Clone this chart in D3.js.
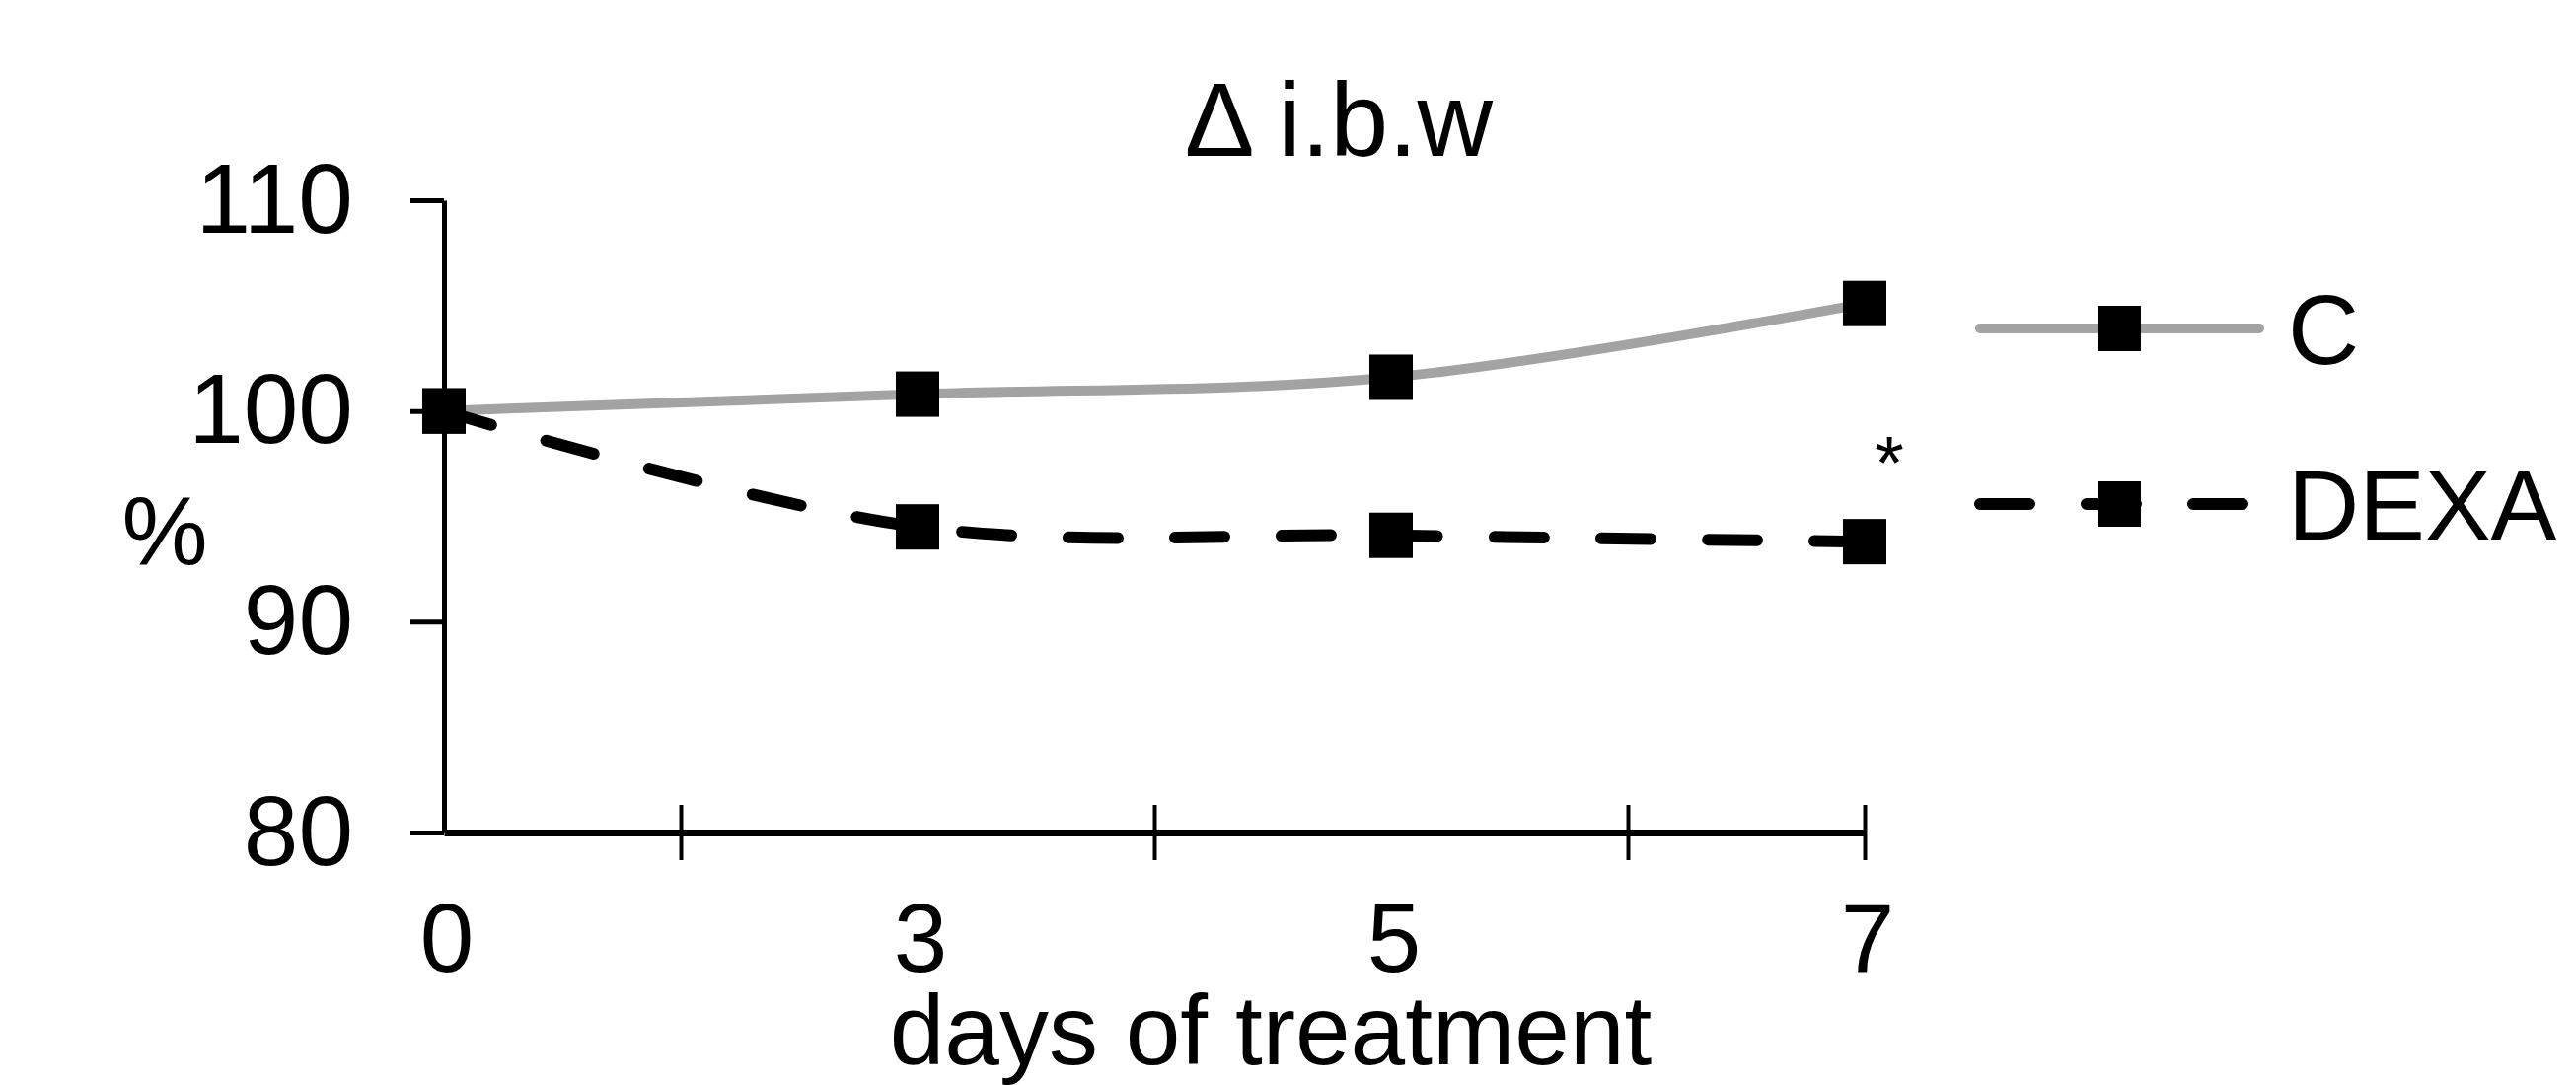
<!DOCTYPE html>
<html>
<head>
<meta charset="utf-8">
<script src="https://cdn.jsdelivr.net/npm/d3@7"></script>
<style>
  body { margin: 0; background: #fff; }
  text { font-family: "Liberation Sans", Arial, sans-serif; fill: #000; }
</style>
</head>
<body>
<svg id="myGraph" width="2611" height="1100"></svg>
<script>
// data
var days = ["0", "3", "5", "7"];          // x category labels
var seriesNames = ["C", "DEXA"];
var valuesC = [100, 100.8, 101.6, 105.1];
var valuesDexa = [100, 94.5, 94.1, 93.8];
var yTicks = [80, 90, 100, 110];
var starAt = 3;   // index of the day marked with *

var svg = d3.select("#myGraph");

// scales
var x = d3.scalePoint().domain(days).range([450, 1890]);
var xi = d3.scaleLinear().domain([0, days.length - 1]).range([450, 1890]); // for between-category ticks
var y = d3.scaleLinear().domain([80, 110]).range([844, 203]);

// y axis
var yAxis = svg.append("g")
  .attr("transform", "translate(450,0)")
  .call(d3.axisLeft(y).tickValues(yTicks).tickSize(34).tickSizeOuter(0).tickPadding(58));
yAxis.select(".domain").attr("stroke-width", 5);
yAxis.selectAll(".tick line").attr("stroke-width", 5);
yAxis.selectAll(".tick text").attr("font-size", 100).attr("font-family", "Liberation Sans, Arial, sans-serif");

// x axis (ticks sit between categories, labels at categories)
var xAxis = svg.append("g")
  .attr("transform", "translate(0,844)")
  .call(d3.axisBottom(xi).tickValues([0.5, 1.5, 2.5, 3]).tickSizeOuter(0).tickFormat(""));
xAxis.select(".domain").attr("stroke-width", 7);
xAxis.selectAll(".tick line").attr("y1", -28).attr("y2", 28).attr("stroke-width", 4);

svg.append("g").selectAll("text.xl")
  .data(days).enter()
  .append("text")
  .attr("class", "xl")
  .attr("x", function(d){ return x(d) + 3; })
  .attr("y", 985)
  .attr("text-anchor", "middle")
  .attr("font-size", 98)
  .text(function(d){ return d; });

// titles
svg.append("text")
  .attr("x", 1357).attr("y", 158)
  .attr("text-anchor", "middle")
  .attr("font-size", 106)
  .text("Δ i.b.w");

svg.append("text")
  .attr("x", 1288).attr("y", 1079)
  .attr("text-anchor", "middle")
  .attr("font-size", 100)
  .text("days of treatment");

svg.append("text")
  .attr("x", 167).attr("y", 572)
  .attr("text-anchor", "middle")
  .attr("font-size", 98)
  .text("%");

// lines
var line = d3.line()
  .x(function(d, i){ return x(days[i]); })
  .y(function(d){ return y(d); })
  .curve(d3.curveCatmullRom.alpha(0.5));

var styles = [
  { stroke: "#a3a3a3", width: 10, dash: null },
  { stroke: "#000", width: 12, dash: "50,58" }
];
var allSeries = [valuesC, valuesDexa];

allSeries.forEach(function(vals, s){
  svg.append("path")
    .attr("d", line(vals))
    .attr("fill", "none")
    .attr("stroke", styles[s].stroke)
    .attr("stroke-width", styles[s].width)
    .attr("stroke-linecap", "round")
    .attr("stroke-dasharray", styles[s].dash);

  svg.append("g").selectAll("rect")
    .data(vals).enter()
    .append("rect")
    .attr("x", function(d, i){ return x(days[i]) - 22; })
    .attr("y", function(d){ return y(d) - 23; })
    .attr("width", 44)
    .attr("height", 46)
    .attr("fill", "#000");
});

// significance mark
svg.append("text")
  .attr("x", x(days[starAt]) + 25)
  .attr("y", 495)
  .attr("text-anchor", "middle")
  .attr("font-size", 76)
  .text("*");

// legend
var legendY = [333, 511];
seriesNames.forEach(function(name, s){
  var g = svg.append("g").attr("transform", "translate(2007," + legendY[s] + ")");
  g.append("line")
    .attr("x1", 0).attr("x2", 283)
    .attr("stroke", styles[s].stroke)
    .attr("stroke-width", styles[s].width)
    .attr("stroke-linecap", "round")
    .attr("stroke-dasharray", styles[s].dash);
  g.append("rect")
    .attr("x", 141 - 22).attr("y", -23)
    .attr("width", 44).attr("height", 46)
    .attr("fill", "#000");
  g.append("text")
    .attr("x", 312).attr("y", 36)
    .attr("font-size", 100)
    .text(name);
});
</script>
</body>
</html>
